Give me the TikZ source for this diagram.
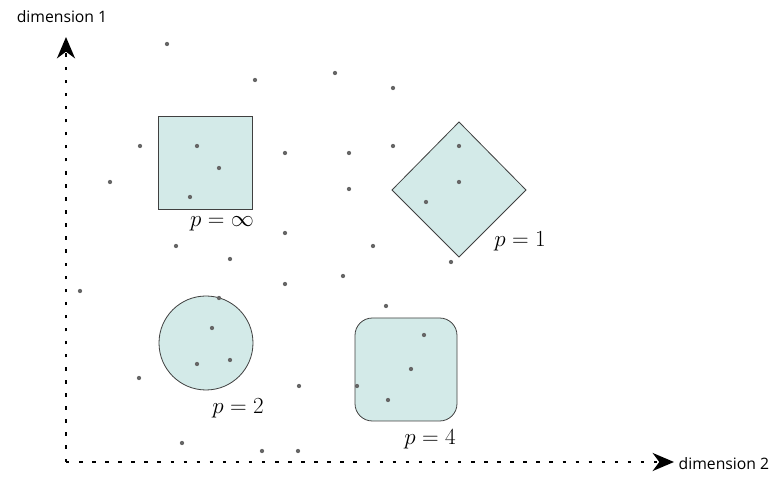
\documentclass[tikz,border=0pt]{standalone}
\usepackage{amsmath, amssymb}
\usepackage{fontspec}
\setsansfont{Open Sans}
\usepackage{xcolor}
\usepackage{tikz}
\usetikzlibrary{arrows.meta, positioning}

\definecolor{ballfill}{HTML}{D3EAE8}
\definecolor{dotgray}{HTML}{666666}

\begin{document}
\begin{tikzpicture}[x=0.75pt, y=-0.75pt,
    axis/.style={line width=1.8pt, dash pattern=on 2.6pt off 7.2pt,
      -{Stealth[length=16pt, width=13.5pt, inset=5pt]}},
    ball/.style={draw=black!75, fill=ballfill, line width=0.6pt},
    plabel/.style={font=\fontsize{16.5}{19}\selectfont},
    axlabel/.style={font=\sffamily\fontsize{11.8}{14}\selectfont}]
  \useasboundingbox (0,0) rectangle (776,488);

  % Kugeln
  \draw[ball] (158,116) rectangle (252,209);                      % p = inf
  \draw[ball] (459,122) -- (526,190) -- (459,257) -- (392,190) -- cycle; % p = 1
  \draw[ball] (206,343) circle (47);                              % p = 2
  \draw[ball, rounded corners=13pt] (355,318) rectangle (457,421);% p = 4

  \node[plabel] (pinf) at (222,224) {$p = \infty$};
  \node[plabel] (pone) at (520,241) {$p = 1$};
  \node[plabel] (ptwo) at (238,408) {$p = 2$};
  \node[plabel] (pfour) at (430,439) {$p = 4$};

  % Datenpunkte
  \foreach \x/\y in {167/44, 255/80, 335/73, 393/88, 140/146, 197/146,
      219/168, 190/197, 110/182, 285/153, 349/153, 393/146, 459/146,
      459/182, 426/202, 349/189, 285/233, 176/246, 230/259, 373/246,
      451/262, 80/291, 219/298, 285/284, 343/276, 386/306, 212/328,
      197/364, 230/360, 139/378, 299/386, 357/386, 411/369, 388/400,
      424/335, 182/443, 262/451, 298/451}
    \fill[dotgray] (\x,\y) circle (1.6pt);

  % Achsen
  \coordinate (origin) at (66,462);
  \coordinate (ytip) at (66,37);
  \coordinate (xtip) at (674,462);
  \draw[axis] (origin) -- (ytip);
  \draw[axis] (origin) -- (xtip);
  \node[axlabel] (dimone) at (62,17) {dimension 1};
  \node[axlabel, right=0pt of xtip, yshift=-1pt] (dimtwo) {dimension 2};
\end{tikzpicture}
\end{document}
